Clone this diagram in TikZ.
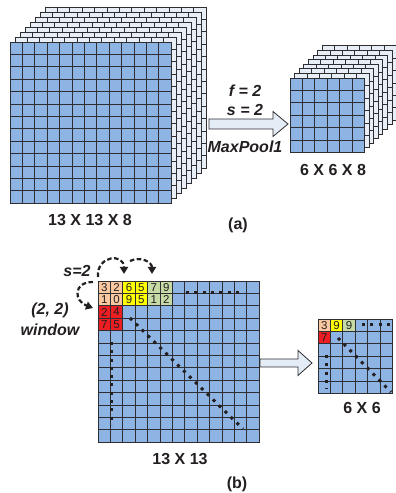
\documentclass[tikz,border=0pt]{standalone}
\usepackage{fontspec}
\setmainfont{Liberation Sans}
\usetikzlibrary{arrows.meta, positioning}
\definecolor{MapBlue}{RGB}{142,180,227}
\definecolor{LayerFill}{RGB}{232,238,246}
\definecolor{GridGray}{RGB}{45,45,50}
\definecolor{TxtGray}{RGB}{35,31,32}
\definecolor{ArrowFill}{RGB}{228,236,246}
\definecolor{Peach}{RGB}{250,200,160}
\definecolor{Yel}{RGB}{255,255,0}
\definecolor{Leaf}{RGB}{198,218,165}
\definecolor{PoolRed}{RGB}{236,30,36}

% feature map: x, y (bottom left), cells, fill
\newcommand{\fmap}[4]{%
  \fill[#4] (#1,#2) rectangle ++({12.4*#3},{12.4*#3});
  \foreach \k in {0,...,#3}{%
    \draw[cellline] ({#1+12.4*\k},#2) -- ++(0,{12.4*#3});
    \draw[cellline] (#1,{#2+12.4*\k}) -- ++({12.4*#3},0);
  }
  \draw[cellline] (#1,#2) rectangle ++({12.4*#3},{12.4*#3});
}

\begin{document}
\begin{tikzpicture}[x=1pt, y=1pt,
  every node/.style={font=\bfseries\fontsize{16}{18}\selectfont, text=TxtGray},
  cellline/.style={draw=GridGray, line width=0.9pt},
  digit/.style={font=\fontsize{11.5}{12}\selectfont, inner sep=0pt},
  dotline/.style={TxtGray, line width=3pt, dash pattern=on 3pt off 5.3pt},
  hop/.style={-{Triangle[length=7pt,width=8pt]}, TxtGray, line width=2.2pt, dash pattern=on 4.5pt off 2.5pt},
  block/.style={draw=GridGray, fill=ArrowFill, line width=0.8pt}
]
\useasboundingbox (0,0) rectangle (396,493);

% (a) input stack 13 x 13 x 8
\foreach \l in {7,...,1} {\fmap{10+5*\l}{289.8+5*\l}{13}{LayerFill}}
\fmap{10}{289.8}{13}{MapBlue}

% (a) output stack 6 x 6 x 8
\foreach \l in {7,...,1} {\fmap{290+4.6*\l}{340.6+4.6*\l}{6}{LayerFill}}
\fmap{290}{340.6}{6}{MapBlue}

% (a) pooling arrow
\coordinate (aTail) at (209,369);
\coordinate (aTip) at (288,369);
\draw[block] (aTail) ++(0,5) -- ++(64,0) -- ++(0,7.5) -- (aTip) -- ++(-15,-12.5) -- ++(0,7.5) -- ++(-64,0) -- cycle;

\node (fval) at (245,402) {\itshape f = 2};
\node (sval) at (245,383) {\itshape s = 2};
\node (pool) at (245,346) {\itshape MaxPool1};
\node (inlbl) at (90,273) {13 X 13 X 8};
\node (outlbl) at (333,323) {6 X 6 X 8};
\node (capa) at (238,268) {(a)};

% (b) one channel 13 x 13
\fmap{98}{50.8}{13}{MapBlue}
\foreach \r/\c/\v/\col in {0/0/3/Peach, 0/1/2/Peach, 1/0/1/Peach, 1/1/0/Peach,
    0/2/6/Yel, 0/3/5/Yel, 1/2/9/Yel, 1/3/5/Yel,
    0/4/7/Leaf, 0/5/9/Leaf, 1/4/1/Leaf, 1/5/2/Leaf,
    2/0/2/PoolRed, 2/1/4/PoolRed, 3/0/7/PoolRed, 3/1/5/PoolRed} {
  \filldraw[cellline, fill=\col] (98+12.4*\c,212-12.4*\r) rectangle ++(12.4,-12.4);
  \node[digit] (d\r\c) at (104.2+12.4*\c,205.8-12.4*\r) {\v};
}
\draw[dotline] (186,200) -- (240,200);
\draw[dotline] (130,175) -- (243,64);
\draw[dotline] (111,151) -- (111,68);

% (b) pooled 6 x 6
\fmap{318}{99.6}{6}{MapBlue}
\foreach \r/\c/\v/\col in {0/0/3/Peach, 0/1/9/Yel, 0/2/9/Leaf, 1/0/7/PoolRed} {
  \filldraw[cellline, fill=\col] (318+12.4*\c,174-12.4*\r) rectangle ++(12.4,-12.4);
  \node[digit] (p\r\c) at (324.2+12.4*\c,167.8-12.4*\r) {\v};
}
\draw[dotline] (362,168) -- (391,168);
\draw[dotline] (338,155) -- (391,101);
\draw[dotline] (326,138) -- (326,104);

% stride hops
\coordinate (h1a) at (98,216);
\coordinate (h1b) at (124,219);
\coordinate (h2a) at (130,232);
\coordinate (h2b) at (152,219);
\coordinate (h3a) at (93,211);
\coordinate (h3b) at (93,185);
\draw[hop] (h1a) to[out=95,in=90,looseness=2.1] (h1b);
\draw[hop] (h2a) to[out=25,in=90,looseness=1.2] (h2b);
\draw[hop] (h3a) to[out=180,in=160,looseness=2] (h3b);

\node (stride) at (77,222) {\itshape s=2};
\node (win) at (50,183) {\itshape (2, 2)};
\node (winb) at (50,163) {\itshape window};

% (b) pooling arrow
\coordinate (bTail) at (260,130);
\coordinate (bTip) at (312,130);
\draw[block] (bTail) ++(0,4) -- ++(38,0) -- ++(0,8.5) -- (bTip) -- ++(-14,-12.5) -- ++(0,8.5) -- ++(-38,0) -- cycle;

\node (biglbl) at (180,34) {13 X 13};
\node (smalllbl) at (362,85) {6 X 6};
\node (capb) at (237,9) {(b)};
\end{tikzpicture}
\end{document}
